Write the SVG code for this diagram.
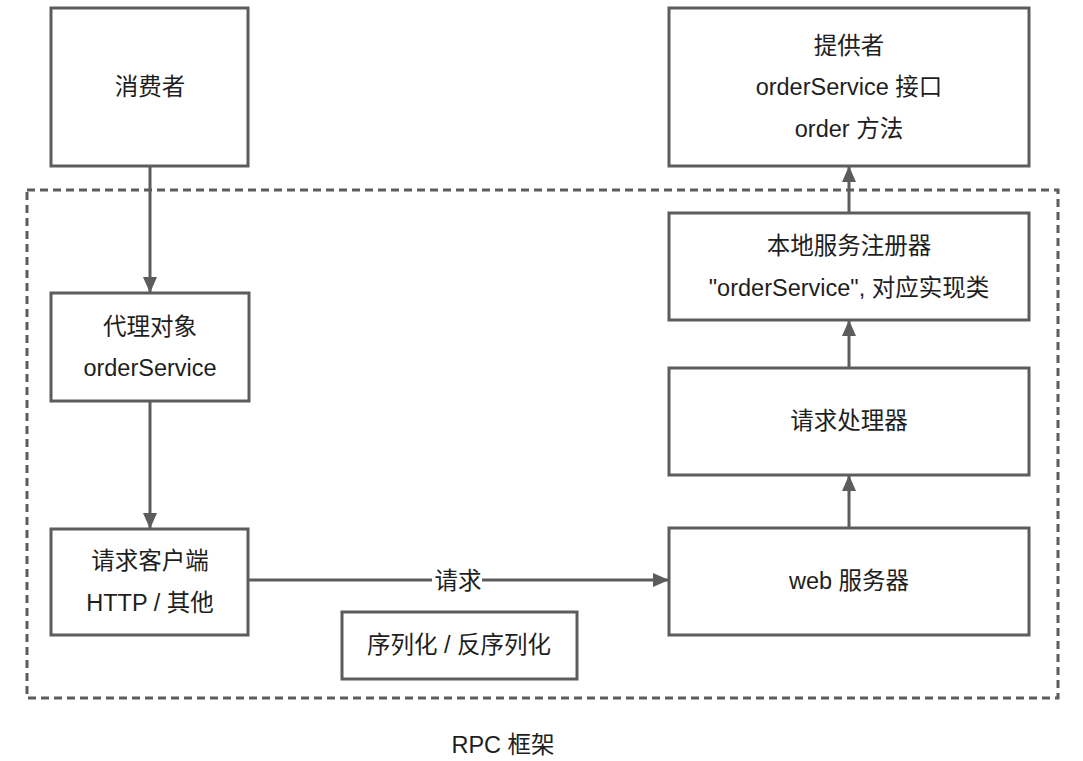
<svg xmlns="http://www.w3.org/2000/svg" width="1083" height="761" viewBox="0 0 1083 761">
<style>
.box{fill:#ffffff;stroke:#5c5c5c;stroke-width:3}
.t{font-family:"Liberation Sans","Noto Sans CJK SC",sans-serif;font-size:23.5px;fill:#1e1e1e;text-anchor:middle}
.c{stroke:#5c5c5c;stroke-width:3;fill:none}
</style>
<defs>
<marker id="ah" markerUnits="userSpaceOnUse" markerWidth="16" markerHeight="14" refX="15" refY="7" orient="auto">
<path d="M0,0 L16,7 L0,14 Z" fill="#5c5c5c"/>
</marker>
</defs>
<rect width="1083" height="761" fill="#ffffff"/>
<g id="frame">
<rect x="27" y="190" width="1031" height="508" fill="none" stroke="#5c5c5c" stroke-width="3" stroke-dasharray="8,5"/>
<text class="t" x="503" y="753">RPC 框架</text>
</g>
<g id="connectors">
<line class="c" x1="150" y1="166" x2="150" y2="292" marker-end="url(#ah)"/>
<line class="c" x1="150" y1="401" x2="150" y2="528" marker-end="url(#ah)"/>
<line class="c" x1="248" y1="580" x2="668" y2="580" marker-end="url(#ah)"/>
<line class="c" x1="849" y1="528" x2="849" y2="476" marker-end="url(#ah)"/>
<line class="c" x1="849" y1="368" x2="849" y2="321" marker-end="url(#ah)"/>
<line class="c" x1="849" y1="213" x2="849" y2="167" marker-end="url(#ah)"/>
<rect x="432" y="566" width="50" height="28" fill="#ffffff"/>
<text class="t" x="458" y="589">请求</text>
</g>
<g id="consumer">
<rect class="box" x="51" y="8" width="197" height="158"/>
<text class="t" x="150" y="95">消费者</text>
</g>
<g id="provider">
<rect class="box" x="669" y="8" width="360" height="158"/>
<text class="t" x="849" y="54">提供者</text>
<text class="t" x="849" y="95">orderService 接口</text>
<text class="t" x="849" y="137">order 方法</text>
</g>
<g id="proxy">
<rect class="box" x="51" y="293" width="198" height="108"/>
<text class="t" x="150" y="335">代理对象</text>
<text class="t" x="150" y="376">orderService</text>
</g>
<g id="client">
<rect class="box" x="51" y="529" width="197" height="106"/>
<text class="t" x="150" y="569">请求客户端</text>
<text class="t" x="150" y="611">HTTP / 其他</text>
</g>
<g id="serializer">
<rect class="box" x="342" y="612" width="235" height="67"/>
<text class="t" x="459" y="653">序列化 / 反序列化</text>
</g>
<g id="registry">
<rect class="box" x="669" y="213" width="360" height="107"/>
<text class="t" x="849" y="254">本地服务注册器</text>
<text class="t" x="849" y="296">"orderService", 对应实现类</text>
</g>
<g id="handler">
<rect class="box" x="669" y="368" width="360" height="107"/>
<text class="t" x="849" y="429">请求处理器</text>
</g>
<g id="webserver">
<rect class="box" x="669" y="528" width="360" height="107"/>
<text class="t" x="849" y="589">web 服务器</text>
</g>
</svg>
